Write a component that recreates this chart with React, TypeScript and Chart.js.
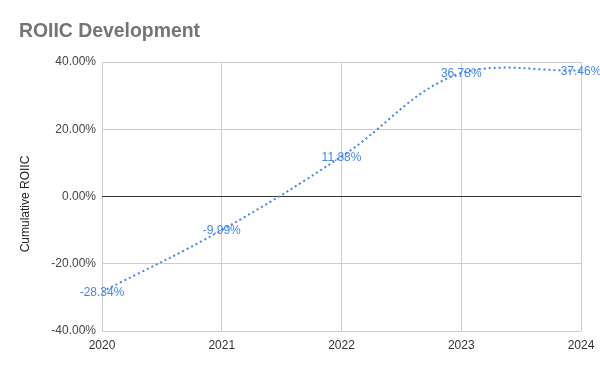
import React, { useEffect, useRef } from "react";
import { Chart, registerables } from "chart.js";

Chart.register(...registerables);

const years = [2020, 2021, 2022, 2023, 2024];
const roiic = [-28.34, -9.99, 11.88, 36.78, 37.46];
const yTicks = [-40, -20, 0, 20, 40];
const titleText = "ROIIC Development";
const yAxisTitle = "Cumulative ROIIC";

const FONT = "'Liberation Sans', Arial, sans-serif";

const overlayPlugin = {
  id: "overlay",
  afterDatasetsDraw(chart: any) {
    const ctx = chart.ctx;
    const meta = chart.getDatasetMeta(0);
    ctx.save();
    ctx.font = `12px ${FONT}`;
    ctx.fillStyle = "#4285f4";
    ctx.textAlign = "center";
    ctx.textBaseline = "middle";
    meta.data.forEach((pt: any, i: number) => {
      ctx.fillText(roiic[i].toFixed(2) + "%", pt.x, pt.y + 1);
    });
    ctx.restore();
  },
  afterDraw(chart: any) {
    const ctx = chart.ctx;
    ctx.save();
    ctx.font = `bold 19.4px ${FONT}`;
    ctx.fillStyle = "#757575";
    ctx.textAlign = "left";
    ctx.textBaseline = "alphabetic";
    ctx.fillText(titleText, 19, 37);
    ctx.translate(26, 204);
    ctx.rotate(-Math.PI / 2);
    ctx.font = `12px ${FONT}`;
    ctx.fillStyle = "#222";
    ctx.textAlign = "center";
    ctx.textBaseline = "middle";
    ctx.fillText(yAxisTitle, 0, 0);
    ctx.restore();
  },
};

export default function App() {
  const ref = useRef<HTMLCanvasElement>(null);
  useEffect(() => {
    if (!ref.current) return;
    const chart = new Chart(ref.current, {
      type: "line",
      data: {
        datasets: [
          {
            data: years.map((y, i) => ({ x: y, y: roiic[i] })),
            borderColor: "#4285f4",
            borderWidth: 2,
            borderDash: [2, 3],
            pointRadius: 0,
            tension: 0.4,
            fill: false,
          },
        ],
      },
      options: {
        animation: false,
        responsive: false,
        maintainAspectRatio: false,
        layout: { padding: { top: 62, right: 19, bottom: 0, left: 0 } },
        plugins: { legend: { display: false }, tooltip: { enabled: false }, title: { display: false } },
        scales: {
          x: {
            type: "linear",
            min: 2020,
            max: 2024,
            afterBuildTicks: (scale: any) => {
              scale.ticks = years.map((v) => ({ value: v }));
            },
            afterFit: (scale: any) => {
              scale.height = 40;
              scale.paddingLeft = 0;
              scale.paddingRight = 0;
            },
            grid: { color: "#cccccc", lineWidth: 1, drawTicks: false },
            border: { display: false },
            ticks: {
              padding: 7,
              color: "#333",
              font: { family: FONT, size: 12 },
              callback: (v: any) => String(v),
              maxRotation: 0,
            },
          },
          y: {
            min: -40,
            max: 40,
            afterBuildTicks: (scale: any) => {
              scale.ticks = yTicks.map((v) => ({ value: v }));
            },
            afterFit: (scale: any) => {
              scale.width = 102;
              scale.paddingTop = 0;
              scale.paddingBottom = 0;
            },
            grid: {
              color: (c: any) => (c.tick && c.tick.value === 0 ? "#333333" : "#cccccc"),
              lineWidth: 1,
              drawTicks: false,
            },
            border: { display: false },
            ticks: {
              padding: 6,
              color: "#444",
              font: { family: FONT, size: 12 },
              callback: (v: any) => Number(v).toFixed(2) + "%",
            },
          },
        },
      },
      plugins: [overlayPlugin],
    });
    return () => chart.destroy();
  }, []);
  return (
    <div style={{ position: "absolute", left: 0, top: 0, width: 600, height: 371, background: "#fff" }}>
      <canvas ref={ref} width={600} height={371} style={{ width: 600, height: 371, display: "block" }} />
    </div>
  );
}
